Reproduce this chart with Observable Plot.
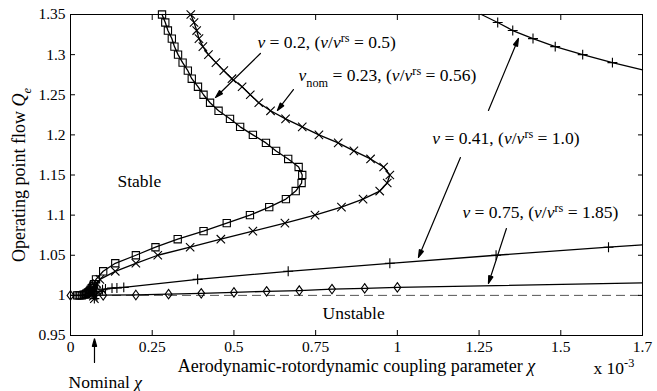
<!DOCTYPE html>
<html>
<head>
<meta charset="utf-8">
<script src="https://cdn.jsdelivr.net/npm/d3@7"></script>
<script src="https://cdn.jsdelivr.net/npm/@observablehq/plot@0.6"></script>
<style>
  html, body { margin: 0; padding: 0; background: #fff; }
  #chart svg { display: block; }
  #chart text { white-space: pre; }
</style>
</head>
<body>
<div id="chart"></div>
<script>
// Axis ticks (χ in units of 1e-3)
const xTickValues = [0, 0.25, 0.5, 0.75, 1, 1.25, 1.5, 1.75];
const xTickLabels = ["0", "0.25", "0.5", "0.75", "1", "1.25", "1.5", "1.7"];
const yTickValues = [0.95, 1, 1.05, 1.1, 1.15, 1.2, 1.25, 1.3, 1.35];
const yTickLabels = ["0.95", "1", "1.05", "1.1", "1.15", "1.2", "1.25", "1.3", "1.35"];

// Stability boundary, ν = 0.2 (squares)
const nu020X = [0.020, 0.025, 0.030, 0.035, 0.040, 0.044, 0.048, 0.052, 0.055, 0.058, 0.060, 0.062, 0.065, 0.068,
  0.070, 0.072, 0.078, 0.100, 0.137, 0.200, 0.260,
  0.328, 0.407, 0.478, 0.549, 0.608, 0.659, 0.689, 0.707, 0.709, 0.698, 0.666, 0.629, 0.598, 0.558, 0.519,
  0.488, 0.453, 0.427, 0.407, 0.390, 0.371, 0.359, 0.343, 0.329, 0.318, 0.310, 0.298, 0.290, 0.280];
const nu020Q = [1.000, 1.000, 1.000, 1.000, 1.001, 1.001, 1.002, 1.003, 1.004, 1.005, 1.006, 1.007, 1.009, 1.010,
  1.012, 1.014, 1.020, 1.030, 1.040, 1.050, 1.060,
  1.070, 1.080, 1.090, 1.100, 1.110, 1.120, 1.130, 1.140, 1.150, 1.160, 1.170, 1.180, 1.190, 1.200, 1.210,
  1.220, 1.230, 1.240, 1.250, 1.260, 1.270, 1.280, 1.290, 1.300, 1.310, 1.320, 1.330, 1.340, 1.350];

// Stability boundary, nominal ν = 0.23 (crosses)
const nu023X = [0.073, 0.070, 0.067, 0.066, 0.068, 0.071, 0.075, 0.080, 0.090, 0.137, 0.200, 0.267, 0.366, 0.460,
  0.558, 0.656, 0.748, 0.829, 0.895, 0.946, 0.969, 0.977, 0.958, 0.918, 0.867, 0.819, 0.760, 0.709, 0.658,
  0.612, 0.576, 0.550, 0.525, 0.494, 0.469, 0.445, 0.422, 0.405, 0.393, 0.386, 0.378, 0.368];
const nu023Q = [0.996, 0.999, 1.002, 1.005, 1.007, 1.009, 1.012, 1.015, 1.020, 1.030, 1.040, 1.050, 1.060, 1.070,
  1.080, 1.090, 1.100, 1.110, 1.120, 1.130, 1.140, 1.150, 1.160, 1.170, 1.180, 1.190, 1.200, 1.210, 1.220,
  1.230, 1.240, 1.250, 1.260, 1.270, 1.280, 1.290, 1.300, 1.310, 1.320, 1.330, 1.340, 1.350];

// Stability boundary, ν = 0.41: lower branch and upper branch (plus signs)
const nu041LowX = [0.073, 0.080, 0.090, 0.098, 0.107, 0.127, 0.142, 0.163, 0.389, 0.666, 0.977, 1.302, 1.646, 1.750];
const nu041LowQ = [0.996, 1.002, 1.005, 1.007, 1.008, 1.009, 1.0093, 1.010, 1.020, 1.030, 1.040, 1.050, 1.060, 1.063];
const nu041UpX = [1.257, 1.307, 1.353, 1.415, 1.483, 1.567, 1.658, 1.750];
const nu041UpQ = [1.350, 1.340, 1.330, 1.320, 1.310, 1.300, 1.290, 1.281];

// Stability boundary, ν = 0.75 (diamonds)
const nu075X = [0, 0.1, 0.2, 0.3, 0.4, 0.5, 0.6, 0.7, 0.8, 0.9, 1.0, 1.75];
const nu075Q = [1.000, 1.0002, 1.0005, 1.0015, 1.0025, 1.0037, 1.005, 1.006, 1.0078, 1.0087, 1.0099, 1.0155];

// Neutral flow line
const neutralQ = [1];

// Curve annotations ($…$ italic, ^{…} superscript, _{…} subscript)
const curveLabelText = [
  "$ν$ = 0.2, ($ν$/$ν$^{rs} = 0.5)",
  "$ν$_{nom} = 0.23, ($ν$/$ν$^{rs} = 0.56)",
  "$ν$ = 0.41, ($ν$/$ν$^{rs} = 1.0)",
  "$ν$ = 0.75, ($ν$/$ν$^{rs} = 1.85)"
];
const curveLabelX = [0.572, 0.6975, 1.107, 1.199];
const curveLabelQ = [1.3151, 1.274, 1.1955, 1.1033];

// Region and reference notes
const noteText = ["Stable", "Unstable", "Nominal $χ$", "x 10^{-3}"];
const noteX = [0.1438, 0.771, -0.006, 1.600];
const noteQ = [1.1419, 0.9774, 0.8914, 0.9095];

// Arrows pointing from the labels to their curves
const arrowX1 = [0.581, 0.682, 1.2787, 1.193, 1.3337, 0.0734];
const arrowQ1 = [1.3014, 1.2565, 1.2304, 1.1718, 1.0833, 0.9164];
const arrowX2 = [0.4436, 0.633, 1.3705, 1.0645, 1.2787, 0.0734];
const arrowQ2 = [1.2466, 1.2304, 1.3201, 1.0472, 1.0148, 0.9459];

// Axis titles
const xTitle = "Aerodynamic-rotordynamic coupling parameter $χ$";
const yTitle = "Operating point flow $Q$_{$e$}";

const rows = (xs, qs) => xs.map((x, i) => ({x, q: qs[i]}));
const s020 = rows(nu020X, nu020Q);
const s023 = rows(nu023X, nu023Q);
const s041L = rows(nu041LowX, nu041LowQ);
const s041U = rows(nu041UpX, nu041UpQ);
const s075 = rows(nu075X, nu075Q);
const curveLabels = curveLabelText.map((t, i) => ({t, x: curveLabelX[i], q: curveLabelQ[i]}));
const notes = noteText.map((t, i) => ({t, x: noteX[i], q: noteQ[i]}));
const arrows = arrowX1.map((x1, i) => ({x1, q1: arrowQ1[i], x2: arrowX2[i], q2: arrowQ2[i]}));

// Slightly tall hollow diamond
const diamond = {
  draw(ctx, size) {
    const r = Math.sqrt(size / Math.PI);
    const h = r * 1.25, w = r * 0.9;
    ctx.moveTo(0, -h); ctx.lineTo(w, 0); ctx.lineTo(0, h); ctx.lineTo(-w, 0); ctx.closePath();
  }
};

const FONT = "'Liberation Serif', 'DejaVu Serif', serif";
const lineOpts = {x: "x", y: "q", stroke: "black", strokeWidth: 1.3};
const dotOpts = {x: "x", y: "q", stroke: "black", fill: "none", strokeWidth: 1.1};

const chart = Plot.plot({
  width: 657,
  height: 391,
  marginLeft: 70,
  marginRight: 15,
  marginTop: 14,
  marginBottom: 56,
  style: {fontFamily: FONT, fontSize: "15.5px", color: "black", background: "white"},
  x: {domain: [0, 1.75], label: null},
  y: {domain: [0.95, 1.35], label: null},
  marks: [
    Plot.ruleY(neutralQ, {stroke: "#555", strokeWidth: 1, strokeDasharray: "9,5"}),
    Plot.line(s020, lineOpts),
    Plot.line(s023, lineOpts),
    Plot.line(s041L, lineOpts),
    Plot.line(s041U, lineOpts),
    Plot.line(s075, lineOpts),
    Plot.dot(s020, {...dotOpts, symbol: "square", r: 4.1}),
    Plot.dot(s023, {...dotOpts, symbol: "times", r: 3.9}),
    Plot.dot(s041L.slice(0, -1), {...dotOpts, symbol: "plus", r: 3.3}),
    Plot.dot(s041U.slice(1, -1), {...dotOpts, symbol: "plus", r: 3.3}),
    Plot.dot(s075.slice(0, -1), {...dotOpts, symbol: diamond, r: 3.8}),
    Plot.arrow(arrows, {x1: "x1", y1: "q1", x2: "x2", y2: "q2", stroke: "black", strokeWidth: 1.2, headLength: 10, headAngle: 32}),
    Plot.text(curveLabels, {x: "x", y: "q", text: "t", textAnchor: "start", fontSize: 17.5, fill: "black"}),
    Plot.text(notes, {x: "x", y: "q", text: "t", textAnchor: "start", fontSize: 17.5, fill: "black"}),
    Plot.text([xTitle], {x: () => 0.875, y: () => 0.9114, text: d => d, textAnchor: "middle", fontSize: 18, fill: "black"}),
    Plot.text([yTitle], {x: () => -0.156, y: () => 1.15, text: d => d, rotate: -90, textAnchor: "middle", fontSize: 18, fill: "black"}),
    Plot.frame({stroke: "black", strokeWidth: 1}),
    Plot.axisX(xTickValues, {anchor: "bottom", tickSize: -5, tickPadding: 10, label: null,
      tickFormat: d => xTickLabels[xTickValues.indexOf(d)]}),
    Plot.axisX(xTickValues, {anchor: "top", tickSize: -5, label: null, tickFormat: () => ""}),
    Plot.axisY(yTickValues, {anchor: "left", tickSize: -5, tickPadding: 10, label: null,
      tickFormat: d => yTickLabels[yTickValues.indexOf(d)]}),
    Plot.axisY(yTickValues, {anchor: "right", tickSize: -5, label: null, tickFormat: () => ""})
  ]
});

// Turn the lightweight markup in text marks into italic / super- / subscript spans
function parseRich(src) {
  const segs = [];
  let italic = false;
  function walk(str, mode) {
    let buf = "";
    const flush = () => { if (buf) segs.push({t: buf, italic, mode}); buf = ""; };
    for (let i = 0; i < str.length; i++) {
      const c = str[i];
      if (c === "$") { flush(); italic = !italic; }
      else if ((c === "^" || c === "_") && str[i + 1] === "{") {
        flush();
        let depth = 1, j = i + 2;
        while (j < str.length && depth) {
          if (str[j] === "{") depth++;
          else if (str[j] === "}") depth--;
          j++;
        }
        const saved = italic;
        walk(str.slice(i + 2, j - 1), c === "^" ? "sup" : "sub");
        italic = saved;
        i = j - 1;
      } else buf += c;
    }
    flush();
  }
  walk(src, "base");
  return segs;
}

function setRich(el, src, size) {
  const segs = parseRich(src);
  el.textContent = "";
  let cur = 0;
  for (const s of segs) {
    const target = s.mode === "sup" ? -0.36 * size : s.mode === "sub" ? 0.32 * size : 0;
    const ts = document.createElementNS("http://www.w3.org/2000/svg", "tspan");
    if (target !== cur) ts.setAttribute("dy", target - cur);
    cur = target;
    if (s.mode !== "base") ts.setAttribute("font-size", 0.7 * size);
    if (s.italic) ts.setAttribute("font-style", "italic");
    ts.textContent = s.t;
    el.appendChild(ts);
  }
}

d3.select(chart).selectAll('g[aria-label="text"]').each(function () {
  const size = parseFloat(this.getAttribute("font-size")) || 15.5;
  d3.select(this).selectAll("text").each(function () {
    setRich(this, this.textContent, size);
  });
});

// Close and fill the arrowheads
d3.select(chart).selectAll('g[aria-label="arrow"] path').each(function () {
  const d = this.getAttribute("d");
  if (d) {
    this.setAttribute("d", d + "Z");
    this.setAttribute("fill", "black");
    this.setAttribute("stroke-linejoin", "miter");
  }
});

document.getElementById("chart").appendChild(chart);
</script>
</body>
</html>
